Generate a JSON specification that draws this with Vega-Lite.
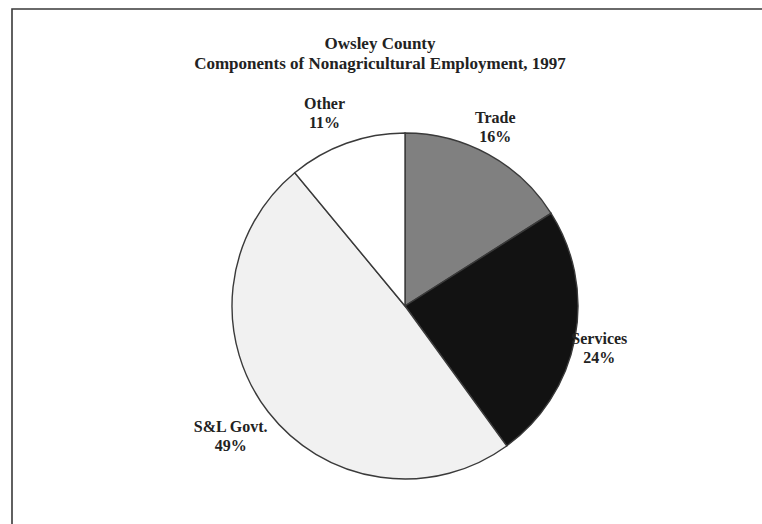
{
  "$schema": "https://vega.github.io/schema/vega-lite/v6.json",
  "autosize": {"type": "none"},
  "width": 786,
  "height": 594,
  "padding": {"left": 12, "top": 9, "right": 0, "bottom": 0},
  "background": "#ffffff",
  "view": {"stroke": "#3a3a3a", "strokeWidth": 1.6, "fill": "#ffffff"},
  "config": {
    "font": "Liberation Serif"
  },
  "title": {
    "text": "Owsley County",
    "subtitle": "Components of Nonagricultural Employment, 1997",
    "anchor": "middle",
    "frame": "group",
    "offset": -64,
    "dx": -25,
    "font": "Liberation Serif",
    "fontSize": 17,
    "fontWeight": "bold",
    "color": "#222222",
    "subtitleFont": "Liberation Serif",
    "subtitleFontSize": 17,
    "subtitleFontWeight": "bold",
    "subtitleColor": "#222222",
    "subtitlePadding": 3
  },
  "data": {
    "values": [
      {"sector": "Trade", "share": 16, "idx": 1, "label": "Trade\n16%"},
      {"sector": "Services", "share": 24, "idx": 2, "label": "Services\n24%"},
      {"sector": "S&L Govt.", "share": 49, "idx": 3, "label": "S&L Govt.\n49%"},
      {"sector": "Other", "share": 11, "idx": 4, "label": "Other\n11%"}
    ]
  },
  "encoding": {
    "theta": {"field": "share", "type": "quantitative", "stack": true},
    "order": {"field": "idx", "type": "quantitative"}
  },
  "layer": [
    {
      "mark": {"type": "arc", "outerRadius": 173, "stroke": "#3a3a3a", "strokeWidth": 1.4},
      "encoding": {
        "color": {
          "field": "sector",
          "type": "nominal",
          "scale": {
            "domain": ["Trade", "Services", "S&L Govt.", "Other"],
            "range": ["#808080", "#121212", "#f1f1f1", "#ffffff"]
          },
          "legend": null
        }
      }
    },
    {
      "mark": {
        "type": "text",
        "radius": 208,
        "dx": -10,
        "dy": -6,
        "lineBreak": "\n",
        "font": "Liberation Serif",
        "fontSize": 16,
        "fontWeight": "bold",
        "color": "#222222",
        "lineHeight": 19
      },
      "encoding": {
        "text": {"field": "label"}
      }
    }
  ]
}
